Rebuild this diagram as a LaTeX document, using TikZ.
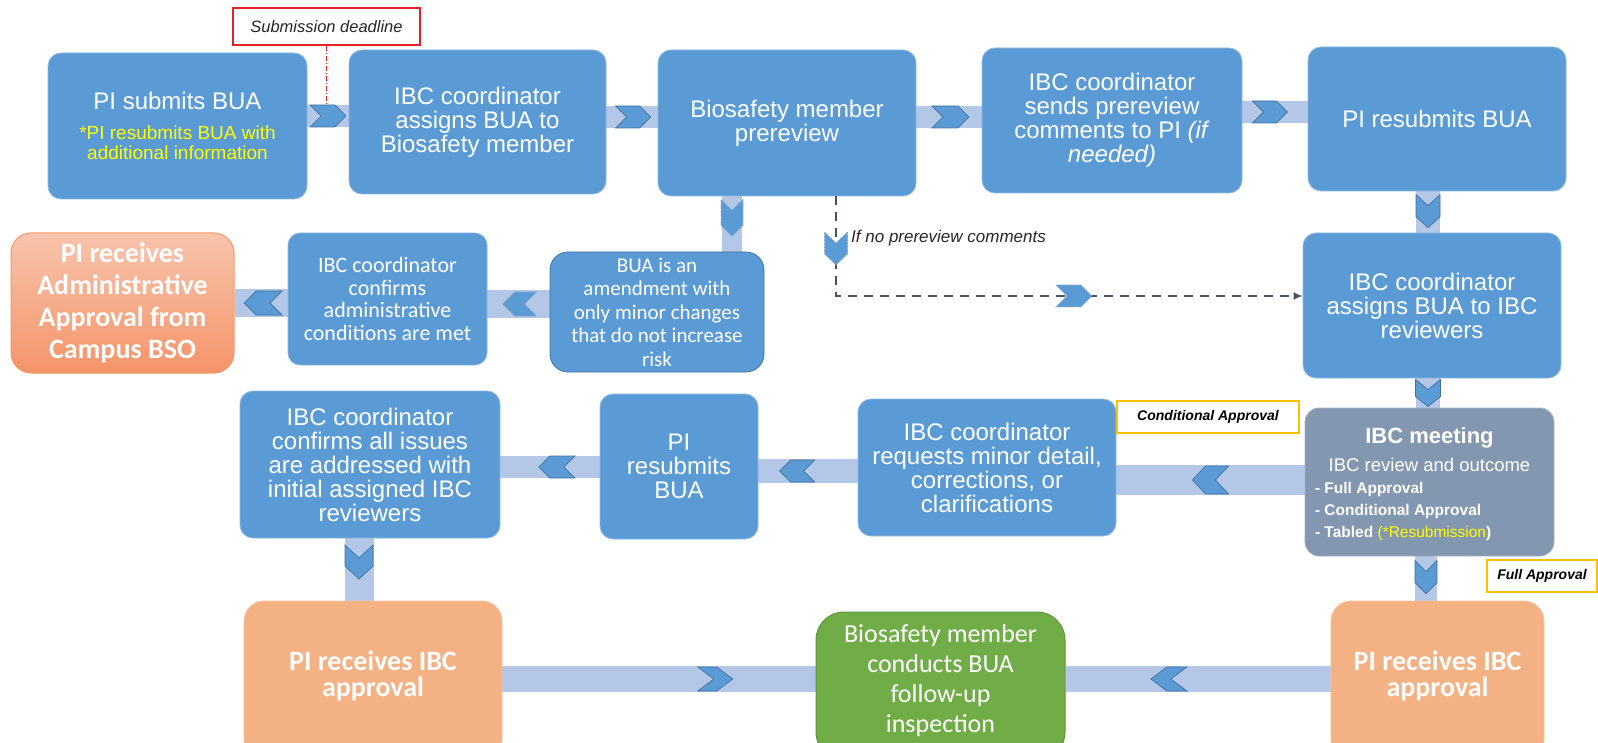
\documentclass[tikz,border=0pt]{standalone}
\usepackage{fontspec}
\setmainfont{Liberation Sans}
\newfontfamily\calfont{Carlito}
\usetikzlibrary{calc,arrows.meta}
\pgfdeclarelayer{background}
\pgfsetlayers{background,main}
\definecolor{boxblue}{HTML}{5B9BD5}
\definecolor{boxedge}{HTML}{8DB8E3}
\definecolor{bandblue}{HTML}{B4C7E7}
\definecolor{chevedge}{HTML}{41719C}
\definecolor{orangebox}{HTML}{F4B183}
\definecolor{orangeedge}{HTML}{F6C29E}
\definecolor{salmontop}{HTML}{F8C4AC}
\definecolor{salmonbot}{HTML}{F4946A}
\definecolor{salmonedge}{HTML}{F29A66}
\definecolor{greenbox}{HTML}{70AD47}
\definecolor{greenedge}{HTML}{5B9338}
\definecolor{meetgray}{HTML}{8497B0}
\definecolor{meetedge}{HTML}{A3B2C6}
\definecolor{dashcol}{HTML}{44546A}
\definecolor{labelgold}{HTML}{FFC000}
\definecolor{hiyellow}{HTML}{FFFF00}
\definecolor{labeltext}{HTML}{262626}
\definecolor{deadred}{HTML}{E8202A}
\newcommand\upby[2]{\raisebox{0pt}[\height][\dimexpr\depth+#1\relax]{#2}}
\tikzset{
  boxbase/.style={rectangle, inner sep=0pt, text=white, align=center},
  bluebox/.style={boxbase, fill=boxblue, draw=boxedge, line width=0.8pt, rounded corners=13pt, font=\fontsize{24}{24}\selectfont},
  amendbox/.style={boxbase, fill=boxblue, draw=chevedge, line width=0.8pt, rounded corners=18pt, font=\calfont\fontsize{21}{23.5}\selectfont},
  admbox/.style={boxbase, fill=boxblue, draw=boxedge, line width=0.6pt, rounded corners=12pt, font=\calfont\fontsize{22}{22.5}\selectfont},
  salmonbox/.style={boxbase, top color=salmontop, bottom color=salmonbot, draw=salmonedge, line width=1pt, rounded corners=20pt, font=\calfont\bfseries\fontsize{28}{32}\selectfont},
  orangeboxst/.style={boxbase, fill=orangebox, draw=orangeedge, line width=0.8pt, rounded corners=20pt, font=\calfont\bfseries\fontsize{28}{26}\selectfont},
  greenboxst/.style={boxbase, fill=greenbox, draw=greenedge, line width=1pt, rounded corners=28pt, font=\calfont\fontsize{26}{30}\selectfont},
  meetbox/.style={boxbase, fill=meetgray, draw=meetedge, line width=0.8pt, rounded corners=14pt},
  deadbox/.style={rectangle, inner sep=0pt, fill=white, draw=deadred, line width=1.2pt, text=labeltext, font=\itshape\fontsize{16.5}{17}\selectfont},
  goldbox/.style={rectangle, inner sep=0pt, fill=white, draw=labelgold, line width=1.2pt, text=black, font=\bfseries\itshape\fontsize{14}{15}\selectfont},
  band/.style={draw=bandblue, line width=#1},
  dashline/.style={draw=dashcol, line width=2pt, dash pattern=on 9pt off 7pt, -{Latex[length=9pt,width=8pt]}},
  reddash/.style={draw=deadred, line width=1pt, dash pattern=on 5pt off 2pt on 1pt off 2pt},
  chevshape/.style={fill=boxblue, draw=chevedge, line width=0.7pt, line join=miter},
  chevextra/.style={},
  chevdash/.style={chevextra/.style={draw=chevedge!60!white, dash pattern=on 2pt off 1.5pt}},
  pics/chev/.style args={#1/#2/#3}{code={
    \path[chevshape,chevextra] ({-#1/2},{-#2/2}) -- ({#1/2-#3},{-#2/2}) -- ({#1/2},0) -- ({#1/2-#3},{#2/2}) -- ({-#1/2},{#2/2}) -- ({-#1/2+#3},0) -- cycle;
  }},
}
\begin{document}
\begin{tikzpicture}[x=1pt,y=-1pt]
\useasboundingbox (0,0) rectangle (1598,743);
\clip (0,0) rectangle (1598,743);

% top row
\node[bluebox, minimum width=259pt, minimum height=146pt] (pisub) at (177.5,126)
  {\parbox{245pt}{\centering PI submits BUA\par\vspace{10.5pt}\fontsize{19}{19.5}\selectfont\color{hiyellow}*PI resubmits BUA with\\additional information\par}};
\node[bluebox, minimum width=257pt, minimum height=144pt] (ibc1) at (477.5,122) {IBC coordinator\\assigns BUA to\\Biosafety member};
\node[bluebox, minimum width=258pt, minimum height=146pt] (prev) at (787,123) {Biosafety member\\prereview};
\node[bluebox, minimum width=260pt, minimum height=145pt] (sends) at (1112,120.5) {IBC coordinator\\sends prereview\\comments to PI \textit{(if}\\\textit{needed)}};
\node[bluebox, minimum width=258pt, minimum height=144pt] (piresub) at (1437,119) {PI resubmits BUA};

% second row
\node[salmonbox, minimum width=223pt, minimum height=140pt] (adm) at (122.5,303) {PI receives\\Administrative\\Approval from\\Campus BSO};
\node[admbox, minimum width=199pt, minimum height=132pt] (cadm) at (387.5,299) {IBC coordinator\\confirms\\administrative\\conditions are met};
\node[amendbox, minimum width=214pt, minimum height=120pt] (bua) at (657,312) {BUA is an\\amendment with\\only minor changes\\that do not increase\\risk};
\node[bluebox, minimum width=258pt, minimum height=145pt] (assign) at (1432,305.5) {IBC coordinator\\assigns BUA to IBC\\reviewers};

% third row
\node[bluebox, minimum width=260pt, minimum height=147pt] (conf) at (370,464.5) {IBC coordinator\\confirms all issues\\are addressed with\\initial assigned IBC\\reviewers};
\node[bluebox, minimum width=158pt, minimum height=145pt] (pi2) at (679,466.5) {PI\\resubmits\\BUA};
\node[bluebox, minimum width=258pt, minimum height=137pt] (req) at (987,467.5) {IBC coordinator\\requests minor detail,\\corrections, or\\clarifications};
\node[meetbox, minimum width=249pt, minimum height=148pt] (meet) at (1429.5,482)
  {\upby{-4pt}{\parbox{229pt}{\centering\fontsize{22}{22}\selectfont\bfseries IBC meeting\par
   \fontsize{18.5}{28}\selectfont\mdseries IBC review and outcome\par
   \raggedright\fontsize{15.5}{22}\selectfont\bfseries - Full Approval\par
   - Conditional Approval\par
   - Tabled {\mdseries\textcolor{hiyellow}{(*Resubmission}})\par}}};

% bottom row
\node[orangeboxst, minimum width=258pt, minimum height=159pt] (pirecL) at (373,680.5)
  {\upby{10pt}{\parbox{250pt}{\centering\lineskiplimit=-50pt PI receives IBC\\approval\par}}};
\node[greenboxst, minimum width=249pt, minimum height=148pt] (green) at (940.5,686)
  {\upby{10pt}{\begin{tabular}{@{}c@{}}Biosafety member\\conducts BUA\\follow-up\\inspection\end{tabular}}};
\node[orangeboxst, minimum width=213pt, minimum height=159pt] (pirecR) at (1437.5,680.5)
  {\upby{10pt}{\parbox{205pt}{\centering\lineskiplimit=-50pt PI receives IBC\\approval\par}}};

% labels
\node[deadbox, minimum width=187pt, minimum height=37pt] (deadline) at (326.5,26.5) {Submission deadline};
\node[goldbox, minimum width=182pt, minimum height=32pt] (condlbl) at (1208,417) {Conditional Approval};
\node[goldbox, minimum width=110pt, minimum height=32pt] (fulllbl) at (1542,576) {Full Approval};
\node[anchor=west, inner sep=0pt, text=labeltext, font=\itshape\fontsize{17}{17}\selectfont] (ifno) at (851,238.5) {If no prereview comments};

% bands
\begin{pgfonlayer}{background}
\draw[band=22pt] (pisub.east |- 0,116) -- (ibc1.west |- 0,116);
\draw[band=22pt] (ibc1.east |- 0,117) -- (prev.west |- 0,117);
\draw[band=22pt] (prev.east |- 0,117) -- (sends.west |- 0,117);
\draw[band=22pt] (sends.east |- 0,112) -- (piresub.west |- 0,112);
\draw[band=24pt] (1428,0 |- piresub.south) -- (1428,0 |- assign.north);
\draw[band=24pt] (1428,0 |- assign.south) -- (1428,0 |- meet.north);
\draw[band=30pt] (meet.west |- 0,480) -- (req.east |- 0,480);
\draw[band=24pt] (req.west |- 0,471) -- (pi2.east |- 0,471);
\draw[band=22pt] (pi2.west |- 0,467) -- (conf.east |- 0,467);
\draw[band=29pt] (359,0 |- conf.south) -- (359,0 |- pirecL.north);
\draw[band=22pt] (1426,0 |- meet.south) -- (1426,0 |- pirecR.north);
\draw[band=26pt] (pirecL.east |- 0,679) -- (green.west |- 0,679);
\draw[band=26pt] (pirecR.west |- 0,679) -- (green.east |- 0,679);
\draw[band=28pt] (cadm.west |- 0,303) -- (adm.east |- 0,303);
\draw[band=27pt] (bua.west |- 0,304) -- (cadm.east |- 0,304);
\draw[band=20pt] (732,0 |- prev.south) -- (732,0 |- bua.north);
\end{pgfonlayer}

% chevrons
\pic at ($(pisub.east |- 0,116)!0.5!(ibc1.west |- 0,116)$) {chev=36/22/11};
\pic at ($(ibc1.east |- 0,117)!0.52!(prev.west |- 0,117)$) {chev=35/22/11};
\pic at ($(prev.east |- 0,117)!0.52!(sends.west |- 0,117)$) {chev=37/22/11};
\pic at ($(sends.east |- 0,112)!0.42!(piresub.west |- 0,112)$) {chev=35/22/11};
\pic[rotate=-90] at ($(1428,0 |- piresub.south)!0.48!(1428,0 |- assign.north)$) {chev=33/24/11};
\pic[rotate=-90] at ($(1428,0 |- assign.south)!0.5!(1428,0 |- meet.north)$) {chev=27/25/10};
\pic[rotate=180] at ($(meet.west |- 0,480)!0.5!(req.east |- 0,480)$) {chev=36/28/13};
\pic[rotate=180] at ($(req.west |- 0,471)!0.61!(pi2.east |- 0,471)$) {chev=35/22/11};
\pic[rotate=180] at ($(pi2.west |- 0,467)!0.43!(conf.east |- 0,467)$) {chev=36/22/11};
\pic[rotate=-90] at ($(359,0 |- conf.south)!0.38!(359,0 |- pirecL.north)$) {chev=34/28/13};
\pic[rotate=-90] at ($(1426,0 |- meet.south)!0.47!(1426,0 |- pirecR.north)$) {chev=33/22/11};
\pic at ($(pirecL.east |- 0,679)!0.68!(green.west |- 0,679)$) {chev=35/24/16};
\pic[rotate=180] at ($(pirecR.west |- 0,679)!0.61!(green.east |- 0,679)$) {chev=36/24/16};
\pic[rotate=180] at ($(cadm.west |- 0,303)!0.46!(adm.east |- 0,303)$) {chev=38/24/12};
\pic[rotate=180, chevdash] at ($(bua.west |- 0,304)!0.48!(cadm.east |- 0,304)$) {chev=34/24/12};
\pic[rotate=-90, chevdash] at ($(732,0 |- prev.south)!0.39!(732,0 |- bua.north)$) {chev=37/22/11};

% dashed "no prereview comments" path
\coordinate (nobend) at (836,296);
\draw[dashline] (836,0 |- prev.south) -- (nobend) -- (assign.west |- nobend);
\pic[rotate=-90, chevdash] at (836,248.5) {chev=33/23/11};
\pic[chevdash] at ($(nobend)!0.51!(assign.west |- nobend)$) {chev=36/22/11};

% submission deadline marker
\coordinate (ddend) at (326.5,105);
\draw[reddash] (deadline.south) -- (ddend);
\end{tikzpicture}
\end{document}
